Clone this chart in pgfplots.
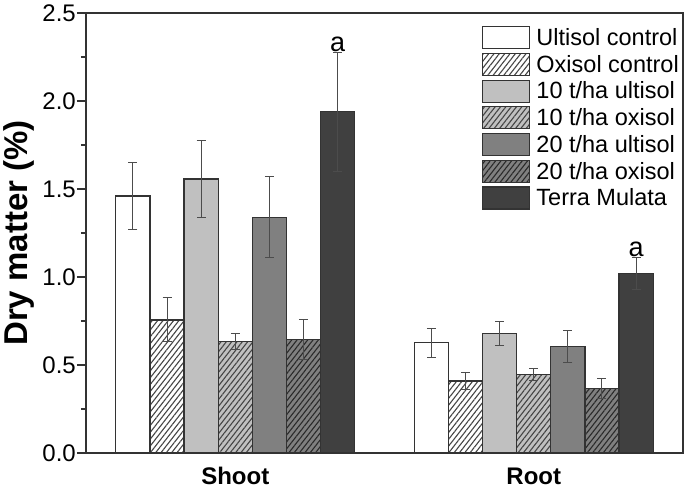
\documentclass[border=0pt]{standalone}
\usepackage{fontspec}
\setmainfont{Liberation Sans}
\usepackage{pgfplots}
\pgfplotsset{compat=1.18}
\usetikzlibrary{patterns.meta}
\definecolor{edge}{HTML}{333333}
\definecolor{lgray}{HTML}{C0C0C0}
\definecolor{mgray}{HTML}{808080}
\definecolor{dgray}{HTML}{404040}
\definecolor{hatchc}{HTML}{454545}
\definecolor{hatchd}{HTML}{2A2A2A}
\begin{document}
\begin{tikzpicture}
\begin{axis}[
  scale only axis,
  width=597pt, height=440pt,
  xmin=-0.5, xmax=1.5,
  ymin=0, ymax=2.5,
  ybar=0pt, bar width=0.1143,
  axis line style={edge, line width=1.3pt},
  xtick={0,1}, xticklabels={\textbf{Shoot},\textbf{Root}},
  x tick style={draw=none},
  xticklabel style={font=\fontsize{24}{24}\selectfont, yshift=-2pt},
  ytick={0,0.5,1,1.5,2,2.5},
  minor y tick num=1,
  ytick pos=left,
  tick align=outside,
  major tick length=9pt, minor tick length=5pt,
  y tick style={edge, line width=1.2pt},
  yticklabel style={font=\fontsize{24}{24}\selectfont, inner sep=1pt},
  /pgf/number format/assume math mode=true,
  /pgf/number format/.cd, fixed, fixed zerofill, precision=1, /pgfplots/.cd,
  ylabel={\textbf{Dry matter (\%)}},
  ylabel style={font=\fontsize{33}{33}\selectfont, yshift=4pt},
  legend cell align=left,
  legend style={at={(1,1)}, anchor=north east, xshift=-3pt, yshift=-13pt,
    draw=none, fill=none, inner sep=0pt, row sep=3.5pt,
    font=\fontsize{23.5}{24}\selectfont,
    nodes={inner sep=1pt},
    /tikz/every odd column/.append style={column sep=5pt}},
  legend image code/.code={\draw[#1] (0pt,-11pt) rectangle (47pt,11pt);},
  error bars/y dir=both, error bars/y explicit,
  error bars/error bar style={black!70, line width=1pt},
  error bars/error mark options={rotate=90, black!70, line width=1pt, mark size=4.5pt},
  clip=false,
]
\addplot[draw=edge, line width=1.2pt, fill=white] coordinates {(0,1.46) +- (0,0.19) (1,0.627) +- (0,0.083)};
\addlegendentry{Ultisol control}
\addplot[draw=edge, line width=1.2pt, fill=white, postaction={pattern={Lines[angle=52,distance=4.2pt,line width=1.1pt]}, pattern color=hatchc}] coordinates {(0,0.756) +- (0,0.125) (1,0.409) +- (0,0.05)};
\addlegendentry{Oxisol control}
\addplot[draw=edge, line width=1.2pt, fill=lgray] coordinates {(0,1.557) +- (0,0.22) (1,0.680) +- (0,0.068)};
\addlegendentry{10 t/ha ultisol}
\addplot[draw=edge, line width=1.2pt, fill=lgray, postaction={pattern={Lines[angle=52,distance=4.2pt,line width=1.1pt]}, pattern color=hatchc}] coordinates {(0,0.632) +- (0,0.045) (1,0.447) +- (0,0.034)};
\addlegendentry{10 t/ha oxisol}
\addplot[draw=edge, line width=1.2pt, fill=mgray] coordinates {(0,1.339) +- (0,0.23) (1,0.604) +- (0,0.091)};
\addlegendentry{20 t/ha ultisol}
\addplot[draw=edge, line width=1.2pt, fill=mgray, postaction={pattern={Lines[angle=52,distance=4.2pt,line width=1.1pt]}, pattern color=hatchd}] coordinates {(0,0.646) +- (0,0.113) (1,0.368) +- (0,0.057)};
\addlegendentry{20 t/ha oxisol}
\addplot[draw=edge, line width=1.2pt, fill=dgray] coordinates {(0,1.939) +- (0,0.337) (1,1.019) +- (0,0.092)};
\addlegendentry{Terra Mulata}
\node[anchor=south, inner sep=0.5pt, font=\fontsize{27}{27}\selectfont] at (axis cs:0.343,2.277) {a};
\node[anchor=south, inner sep=0.5pt, font=\fontsize{27}{27}\selectfont] at (axis cs:1.343,1.111) {a};
\coordinate (sw) at (rel axis cs:0,0);
\coordinate (ne) at (rel axis cs:1,1);
\end{axis}
\pgfresetboundingbox
\path ([xshift=-86pt,yshift=-42pt]sw) rectangle ([xshift=2pt,yshift=13pt]ne);
\end{tikzpicture}
\end{document}
